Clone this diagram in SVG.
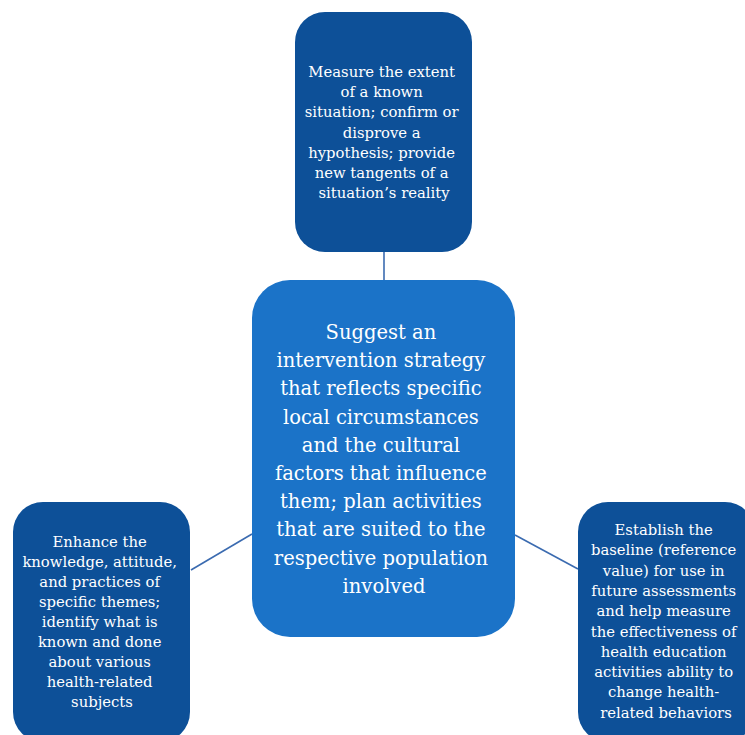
<svg xmlns="http://www.w3.org/2000/svg" width="745" height="735" viewBox="0 0 745 735">
  <style>
    .outer { fill: #0D5098; }
    .core { fill: #1B73C8; }
    .link { stroke: #3B6BB0; stroke-width: 1.6; fill: none; }
    text { font-family: "DejaVu Serif", "Liberation Serif", serif; fill: #FFFFFF; text-anchor: middle; }
    .small { font-size: 14.8px; }
    .big { font-size: 19.5px; }
  </style>
  <rect width="745" height="735" fill="#FFFFFF"/>

  <!-- connectors from the central box to the three outer boxes -->
  <g id="connectors">
    <line class="link" x1="384" y1="252" x2="384" y2="280"/>
    <line class="link" x1="191" y1="570" x2="252" y2="534"/>
    <line class="link" x1="515" y1="535" x2="578" y2="569"/>
  </g>

  <g id="node-top">
    <rect class="outer" x="295" y="12" width="177" height="240" rx="30" ry="30"/>
    <text class="small">
      <tspan x="384" y="77">Measure the extent</tspan>
      <tspan x="384" y="97.2">of a known</tspan>
      <tspan x="384" y="117.4">situation; confirm or</tspan>
      <tspan x="384" y="137.6">disprove a</tspan>
      <tspan x="384" y="157.8">hypothesis; provide</tspan>
      <tspan x="384" y="178">new tangents of a</tspan>
      <tspan x="384" y="198.2">situation’s reality</tspan>
    </text>
  </g>

  <g id="node-center">
    <rect class="core" x="252" y="280" width="263" height="357" rx="38" ry="38"/>
    <text class="big">
      <tspan x="384" y="339">Suggest an</tspan>
      <tspan x="384" y="367.2">intervention strategy</tspan>
      <tspan x="384" y="395.4">that reflects specific</tspan>
      <tspan x="384" y="423.6">local circumstances</tspan>
      <tspan x="384" y="451.8">and the cultural</tspan>
      <tspan x="384" y="480">factors that influence</tspan>
      <tspan x="384" y="508.2">them; plan activities</tspan>
      <tspan x="384" y="536.4">that are suited to the</tspan>
      <tspan x="384" y="564.6">respective population</tspan>
      <tspan x="384" y="592.8">involved</tspan>
    </text>
  </g>

  <g id="node-left">
    <rect class="outer" x="13" y="502" width="177" height="240" rx="30" ry="30"/>
    <text class="small">
      <tspan x="102" y="547">Enhance the</tspan>
      <tspan x="102" y="567">knowledge, attitude,</tspan>
      <tspan x="102" y="587">and practices of</tspan>
      <tspan x="102" y="607">specific themes;</tspan>
      <tspan x="102" y="627">identify what is</tspan>
      <tspan x="102" y="647">known and done</tspan>
      <tspan x="102" y="667">about various</tspan>
      <tspan x="102" y="687">health-related</tspan>
      <tspan x="102" y="707">subjects</tspan>
    </text>
  </g>

  <g id="node-right">
    <rect class="outer" x="578" y="502" width="177" height="240" rx="30" ry="30"/>
    <text class="small">
      <tspan x="666" y="535">Establish the</tspan>
      <tspan x="666" y="555.3">baseline (reference</tspan>
      <tspan x="666" y="575.6">value) for use in</tspan>
      <tspan x="666" y="595.9">future assessments</tspan>
      <tspan x="666" y="616.2">and help measure</tspan>
      <tspan x="666" y="636.5">the effectiveness of</tspan>
      <tspan x="666" y="656.8">health education</tspan>
      <tspan x="666" y="677.1">activities ability to</tspan>
      <tspan x="666" y="697.4">change health-</tspan>
      <tspan x="666" y="717.7">related behaviors</tspan>
    </text>
  </g>
</svg>
